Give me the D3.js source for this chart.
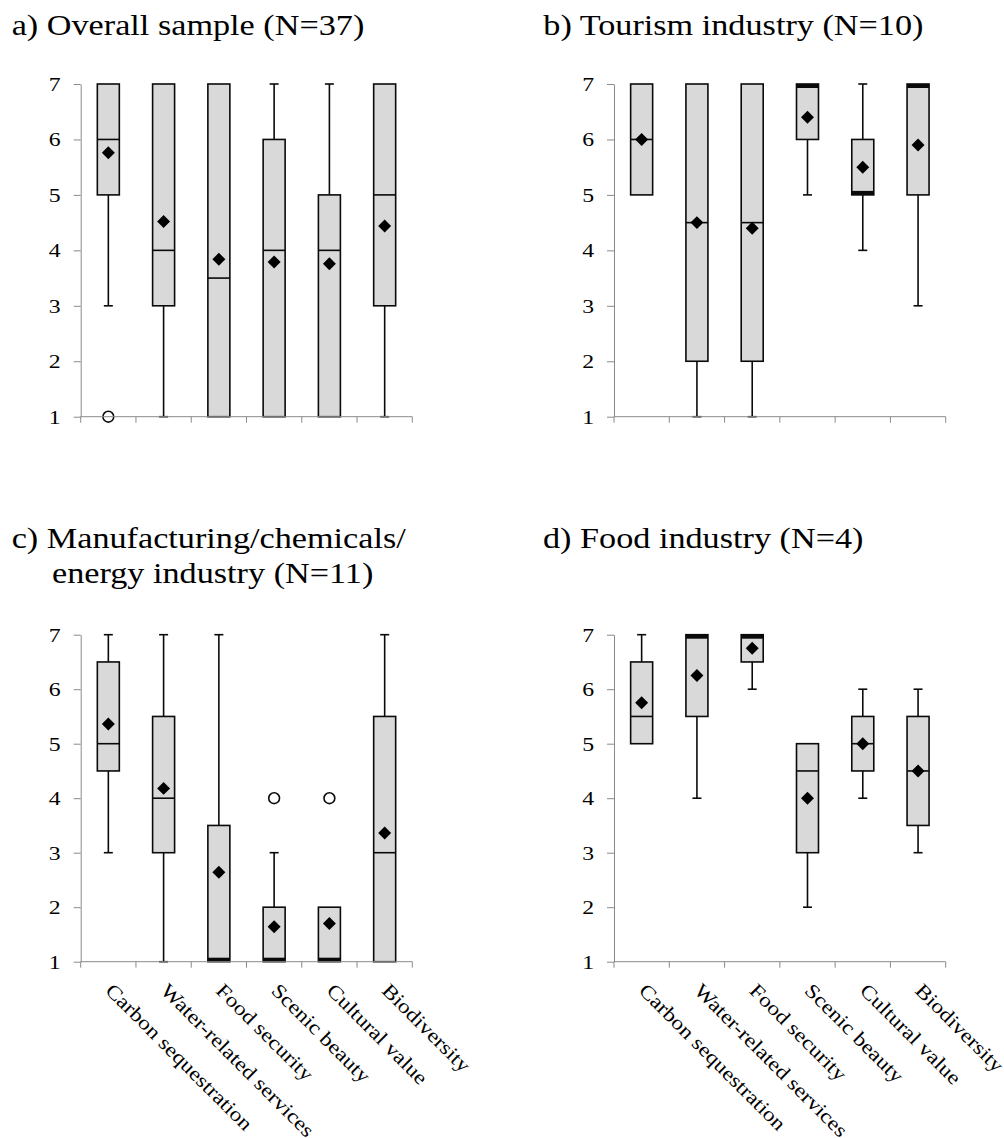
<!DOCTYPE html>
<html>
<head>
<meta charset="utf-8">
<script src="https://cdn.jsdelivr.net/npm/d3@7"></script>
<style>
  html, body { margin: 0; padding: 0; background: #fff; }
  svg { display: block; }
</style>
</head>
<body>
<script>
// Importance ratings (1–7) of ecosystem services by industry group.
const categories = ["Carbon sequestration", "Water-related services", "Food security",
                    "Scenic beauty", "Cultural value", "Biodiversity"];
const yTicks = [1, 2, 3, 4, 5, 6, 7];

// Each row: [min, q1, median, q3, max, mean]
const overallStats = [
  [3, 5, 6, 7, 7, 5.76],
  [1, 3, 4, 7, 7, 4.52],
  [1, 1, 3.5, 7, 7, 3.84],
  [1, 1, 4, 6, 7, 3.79],
  [1, 1, 4, 5, 7, 3.76],
  [1, 3, 5, 7, 7, 4.44]
];
const overallOutliers = [[1], [], [], [], [], []];

const tourismStats = [
  [5, 5, 6, 7, 7, 6.0],
  [1, 2, 4.5, 7, 7, 4.5],
  [1, 2, 4.5, 7, 7, 4.4],
  [5, 6, 7, 7, 7, 6.4],
  [4, 5, 5, 6, 7, 5.5],
  [3, 5, 7, 7, 7, 5.9]
];
const tourismOutliers = [[], [], [], [], [], []];

const manufacturingStats = [
  [3, 4.5, 5, 6.5, 7, 5.36],
  [1, 3, 4, 5.5, 7, 4.18],
  [1, 1, 1, 3.5, 7, 2.64],
  [1, 1, 1, 2, 3, 1.64],
  [1, 1, 1, 2, 2, 1.7],
  [1, 1, 3, 5.5, 7, 3.36]
];
const manufacturingOutliers = [[], [], [], [4], [4], []];

const foodStats = [
  [5, 5, 5.5, 6.5, 7, 5.75],
  [4, 5.5, 7, 7, 7, 6.25],
  [6, 6.5, 7, 7, 7, 6.75],
  [2, 3, 4.5, 5, 5, 4.0],
  [4, 4.5, 5, 5.5, 6, 5.0],
  [3, 3.5, 4.5, 5.5, 6, 4.5]
];
const foodOutliers = [[], [], [], [], [], []];

const W = 1004, H = 1138;
const FONT = '"Liberation Serif", "Times New Roman", Times, serif';
const svg = d3.select("body").append("svg").attr("width", W).attr("height", H);

// Serif glyphs are widened slightly along the baseline to match the figure's typography.
const STRETCH = 1.14;
function stretchText(sel, k) {
  sel.each(function () {
    const len = this.getComputedTextLength();
    d3.select(this).attr("textLength", len * k).attr("lengthAdjust", "spacingAndGlyphs");
  });
}

// Panel titles
const titles = [
  { lines: ["a) Overall sample (N=37)"], x: [11.7], y: [35] },
  { lines: ["b) Tourism industry (N=10)"], x: [543.3], y: [35] },
  { lines: ["c) Manufacturing/chemicals/", "energy industry (N=11)"], x: [11.7, 52], y: [548, 583] },
  { lines: ["d) Food industry (N=4)"], x: [543], y: [548] }
];
titles.forEach(t => {
  t.lines.forEach((line, i) => {
    svg.append("text")
      .attr("x", t.x[i]).attr("y", t.y[i])
      .style("font-family", FONT).style("font-size", "30px")
      .attr("fill", "#000")
      .text(line)
      .call(stretchText, STRETCH);
  });
});

const panels = [
  { stats: overallStats, outliers: overallOutliers, x0: 80.7, x1: 412.3, yTop: 84, yBot: 416.7, labels: false },
  { stats: tourismStats, outliers: tourismOutliers, x0: 614, x1: 945.7, yTop: 84, yBot: 416.7, labels: false },
  { stats: manufacturingStats, outliers: manufacturingOutliers, x0: 80.7, x1: 412.3, yTop: 634.7, yBot: 961.7, labels: true },
  { stats: foodStats, outliers: foodOutliers, x0: 614, x1: 945.7, yTop: 634.7, yBot: 961.7, labels: true }
];

const BOX_W = 22, CAP_W = 9, LW = 1.6;
const axisColor = "#8a8a8a", ink = "#0a0a0a", boxFill = "#d9d9d9";

panels.forEach(p => {
  const g = svg.append("g");
  const x = d3.scaleBand().domain(categories).range([p.x0, p.x1]).padding(0);
  const y = d3.scaleLinear().domain([1, 7]).range([p.yBot, p.yTop]);
  const cx = c => x(c) + x.bandwidth() / 2;

  const rows = categories.map((c, i) => {
    const [min, q1, med, q3, max, mean] = p.stats[i];
    return { c, min, q1, med, q3, max, mean, out: p.outliers[i] };
  });

  const box = g.selectAll("g.box").data(rows).join("g").attr("class", "box");

  // lower whisker
  box.filter(d => d.min < d.q1).each(function (d) {
    const s = d3.select(this);
    s.append("line").attr("x1", cx(d.c)).attr("x2", cx(d.c))
      .attr("y1", y(d.q1)).attr("y2", y(d.min))
      .attr("stroke", ink).attr("stroke-width", LW);
    s.append("line").attr("x1", cx(d.c) - CAP_W / 2).attr("x2", cx(d.c) + CAP_W / 2)
      .attr("y1", y(d.min)).attr("y2", y(d.min))
      .attr("stroke", ink).attr("stroke-width", LW);
  });
  // upper whisker
  box.filter(d => d.max > d.q3).each(function (d) {
    const s = d3.select(this);
    s.append("line").attr("x1", cx(d.c)).attr("x2", cx(d.c))
      .attr("y1", y(d.q3)).attr("y2", y(d.max))
      .attr("stroke", ink).attr("stroke-width", LW);
    s.append("line").attr("x1", cx(d.c) - CAP_W / 2).attr("x2", cx(d.c) + CAP_W / 2)
      .attr("y1", y(d.max)).attr("y2", y(d.max))
      .attr("stroke", ink).attr("stroke-width", LW);
  });

  // interquartile box
  box.append("rect")
    .attr("x", d => cx(d.c) - BOX_W / 2)
    .attr("y", d => y(d.q3))
    .attr("width", BOX_W)
    .attr("height", d => y(d.q1) - y(d.q3))
    .attr("fill", boxFill).attr("stroke", ink).attr("stroke-width", LW);

  // median: a thin line, or a heavy band when it sits on a box edge
  box.each(function (d) {
    const s = d3.select(this);
    if (d.med === d.q3 || d.med === d.q1) {
      const top = d.med === d.q3;
      s.append("rect")
        .attr("x", cx(d.c) - BOX_W / 2).attr("width", BOX_W)
        .attr("y", top ? y(d.med) : y(d.med) - 4).attr("height", 4)
        .attr("fill", ink);
    } else {
      s.append("line")
        .attr("x1", cx(d.c) - BOX_W / 2).attr("x2", cx(d.c) + BOX_W / 2)
        .attr("y1", y(d.med)).attr("y2", y(d.med))
        .attr("stroke", ink).attr("stroke-width", LW);
    }
  });

  // outliers
  box.selectAll("circle").data(d => d.out.map(v => ({ c: d.c, v }))).join("circle")
    .attr("cx", d => cx(d.c)).attr("cy", d => y(d.v)).attr("r", 5.4)
    .attr("fill", "#fff").attr("stroke", ink).attr("stroke-width", LW);

  // mean diamond
  box.append("path")
    .attr("d", d3.symbol(d3.symbolSquare, 84)())
    .attr("transform", d => `translate(${cx(d.c)},${y(d.mean)}) rotate(45)`)
    .attr("fill", "#000");

  // y axis
  const SX = 1.25;
  const ya = g.append("g").attr("transform", `translate(${p.x0},0)`)
    .call(d3.axisLeft(y).tickValues(yTicks).tickSize(7).tickSizeOuter(0).tickFormat(d3.format("d")));
  ya.select(".domain").attr("stroke", axisColor);
  ya.selectAll(".tick line").attr("stroke", axisColor);
  ya.selectAll(".tick text")
    .style("font-family", FONT).style("font-size", "19px").attr("fill", "#000")
    .attr("x", -20 / SX).attr("dy", "0.34em")
    .attr("transform", `scale(${SX},1)`);

  // x axis: baseline with ticks at category boundaries
  const xa = g.append("g");
  xa.append("line").attr("x1", p.x0).attr("x2", p.x1)
    .attr("y1", p.yBot).attr("y2", p.yBot).attr("stroke", axisColor);
  const bounds = categories.map(c => x(c)).concat([p.x1]);
  xa.selectAll("line.tick").data(bounds).join("line").attr("class", "tick")
    .attr("x1", d => d).attr("x2", d => d)
    .attr("y1", p.yBot).attr("y2", p.yBot + 6).attr("stroke", axisColor);

  if (p.labels) {
    g.selectAll("text.cat").data(categories).join("text").attr("class", "cat")
      .attr("transform", c => `translate(${cx(c) - 4},${p.yBot + 30}) rotate(45)`)
      .style("font-family", FONT).style("font-size", "20px")
      .attr("fill", "#000")
      .text(c => c)
      .call(stretchText, 1.17);
  }
});
</script>
</body>
</html>
